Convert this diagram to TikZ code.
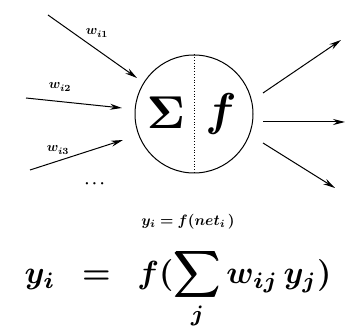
\documentclass[tikz,border=0pt]{standalone}
\usepackage{amsmath,amssymb,bm}
\usetikzlibrary{arrows.meta,positioning,calc}

\begin{document}
\begin{tikzpicture}[
  x=1pt,y=-1pt,
  neuron/.style={draw,circle,line width=1pt,minimum size=118pt,inner sep=0pt},
  arr/.style={-{Stealth[length=12pt,width=6pt]},line width=1pt},
  wlab/.style={inner sep=1pt,scale=1.35}
]
\useasboundingbox (0,0) rectangle (350,328);
% neuron body
\node[neuron] (n) at (194,114) {};
\draw[dotted,line width=0.8pt] (n.north) -- (n.south);
\node[scale=4.6] (sum) at (166,113) {$\boldsymbol{\Sigma}$};
\node[scale=4.6] (act) at (221,114) {$\bm{f}$};
% inputs
\coordinate (in1) at (48,15);
\coordinate (in2) at (26,98);
\coordinate (in3) at (30,170);
\coordinate (e1) at (137,78);
\coordinate (e2) at (122,108);
\coordinate (e3) at (123,140);
\draw[arr] (in1) -- (e1);
\draw[arr] (in2) -- (e2);
\draw[arr] (in3) -- (e3);
\node[wlab] (w1) at (97,33) {$\bm{w_{i1}}$};
\node[wlab] (w2) at (60,87) {$\bm{w_{i2}}$};
\node[wlab] (w3) at (58,150) {$\bm{w_{i3}}$};
\node[scale=1.5] (dots) at (96,184) {$\bm{\cdots}$};
% outputs
\coordinate (o1) at (263,93);
\coordinate (o2) at (263,122);
\coordinate (o3) at (263,143);
\coordinate (t1) at (341,40);
\coordinate (t2) at (345,122);
\coordinate (t3) at (335,188);
\draw[arr] (o1) -- (t1);
\draw[arr] (o2) -- (t2);
\draw[arr] (o3) -- (t3);
% formulas
\node[scale=1.5] (net) at (188,222) {$\bm{y_i=f(net_i\,)}$};
\node[scale=3.2,inner sep=0pt] (eq) at (178,289) {$\displaystyle\bm{y_i\;\;=\;\;f(\sum_j w_{ij}\,y_j)}$};
\end{tikzpicture}
\end{document}
